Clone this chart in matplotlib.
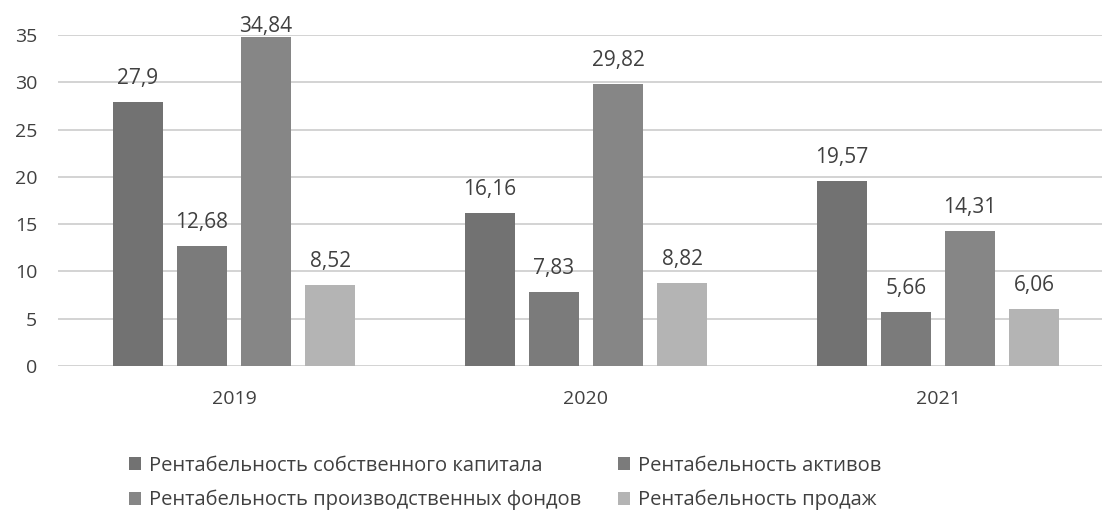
import numpy as np
import matplotlib.pyplot as plt

years = ['2019', '2020', '2021']
series_names = ['Рентабельность собственного капитала',
                'Рентабельность активов',
                'Рентабельность производственных фондов',
                'Рентабельность продаж']
roe = [27.9, 16.16, 19.57]
roa = [12.68, 7.83, 5.66]
ropf = [34.84, 29.82, 14.31]
ros = [8.52, 8.82, 6.06]
values = [roe, roa, ropf, ros]
colors = ['#727272', '#7b7b7b', '#868686', '#b4b4b4']

plt.rcParams['font.family'] = ['Open Sans', 'DejaVu Sans']
text_color = '#404040'

W, H = 1102, 512
fig = plt.figure(figsize=(W/100, H/100), dpi=100)
# axes spans a bit past the right edge, like the source picture
ax = fig.add_axes([58/W, 1 - 366/H, (1114 - 58)/W, (366 - 35)/H])
ax.set_xlim(-0.5, 2.5)
ax.set_ylim(0, 35)

x = np.arange(len(years))
width = 0.142
step = 0.182
handles = []
for i, (vals, col) in enumerate(zip(values, colors)):
    pos = x + (i - 1.5) * step
    b = ax.bar(pos, vals, width, color=col, zorder=3, label=series_names[i])
    handles.append(b)
    for p, v in zip(pos, vals):
        lbl = ('%g' % v).replace('.', ',')
        # pixel gap between bar top and baseline; labels are kept inside the chart area
        top_px = H - ax.transData.transform((p, v))[1]
        base_px = max(top_px - 18, 32)
        off = (top_px - base_px) * 72 / 100
        ax.annotate(lbl, (p, v), xytext=(0, off), textcoords='offset points',
                    ha='center', va='baseline', fontsize=15, color=text_color,
                    annotation_clip=False)

ax.set_yticks(range(0, 36, 5))
ax.set_xticks(x)
ax.set_xticklabels(years)
ax.tick_params(axis='both', length=0, labelsize=14, colors=text_color)
ax.tick_params(axis='x', pad=17)
ax.tick_params(axis='y', pad=15)
ax.grid(axis='y', color='#d0d0d0', linewidth=1.3, zorder=0)
for s in ax.spines.values():
    s.set_visible(False)

# legend filled row by row
order = [0, 2, 1, 3]
fig.legend(handles=[handles[k] for k in order], labels=[series_names[k] for k in order],
           loc='center', bbox_to_anchor=(505/W, 1 - 483/H),
           ncol=2, frameon=False, fontsize=14.5, handlelength=0.6, handleheight=0.6,
           handletextpad=0.4, columnspacing=1.8, labelcolor=text_color,
           labelspacing=0.7)

fig.savefig('out.png', dpi=100)
